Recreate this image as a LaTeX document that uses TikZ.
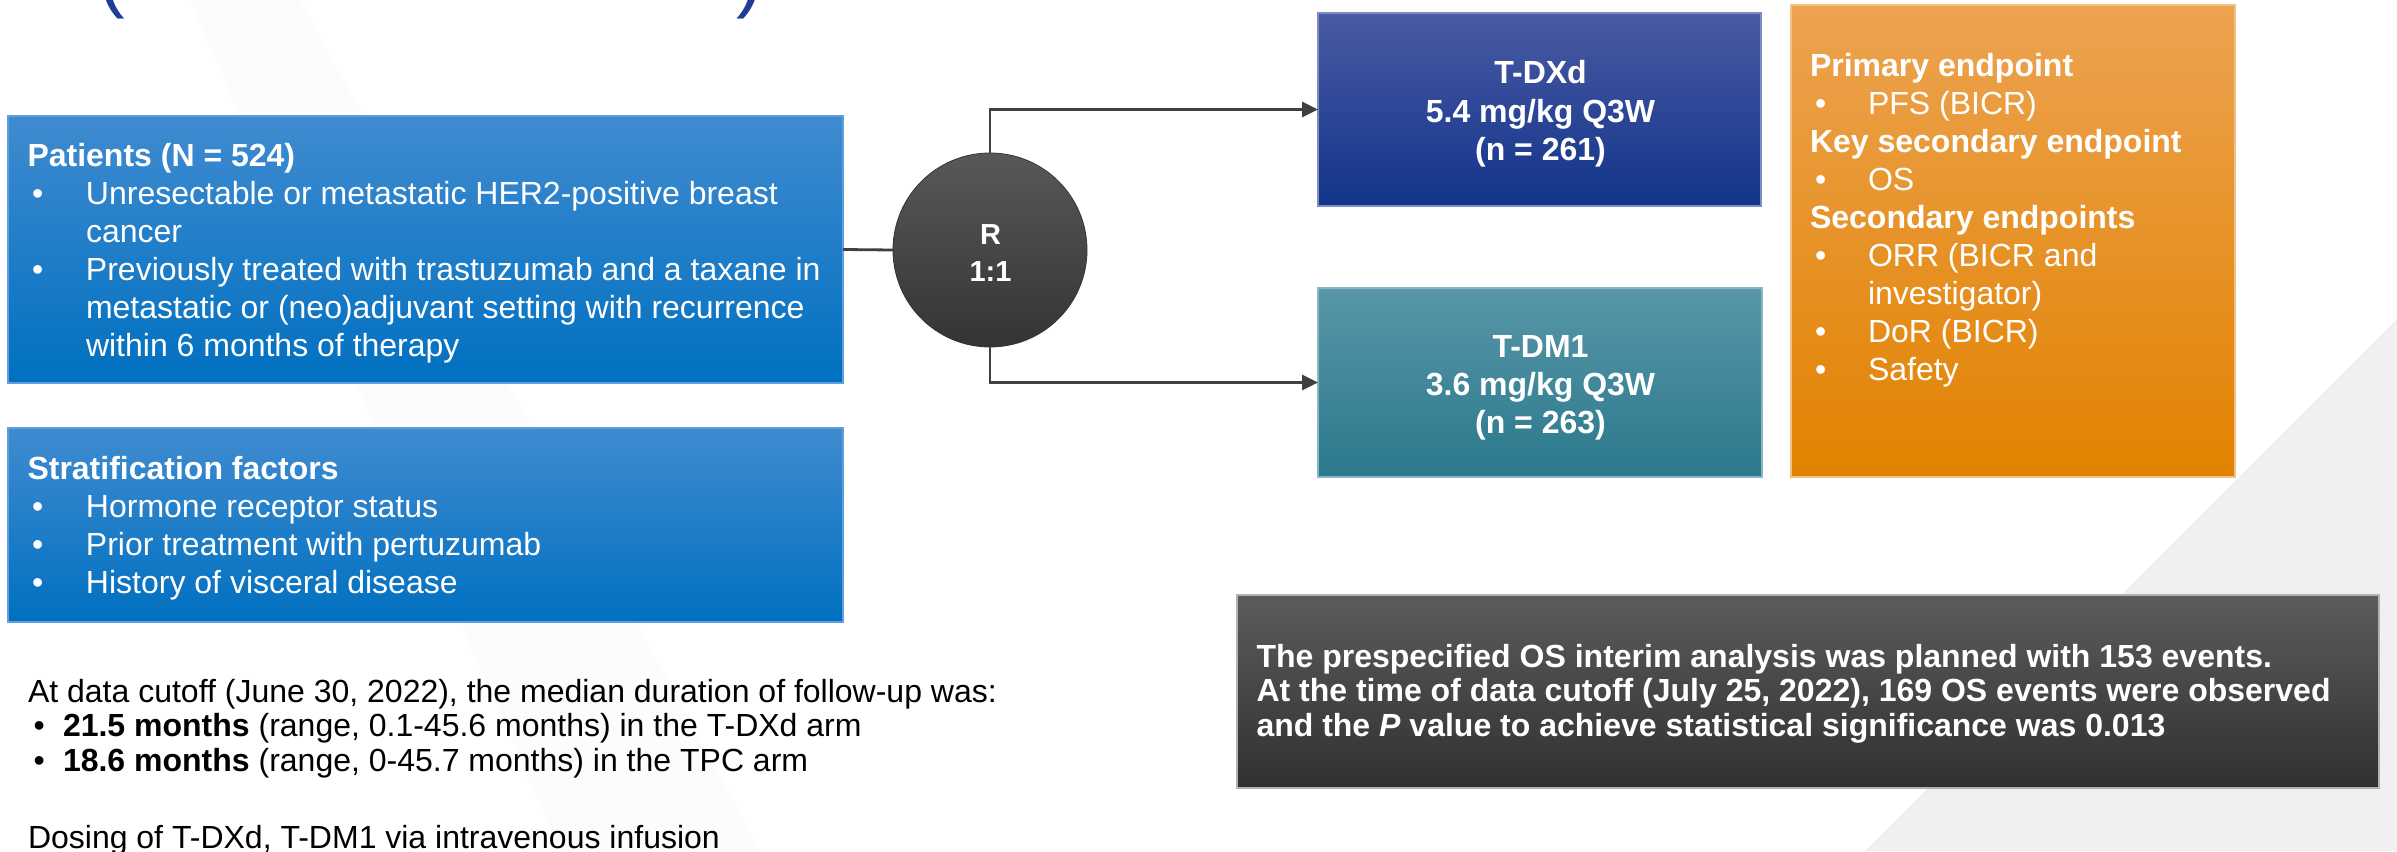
\documentclass[tikz,border=0pt]{standalone}
\usepackage{fontspec}
\setmainfont{Liberation Sans}
\usetikzlibrary{arrows.meta,calc}
\definecolor{patTop}{RGB}{64,139,208}
\definecolor{patBot}{RGB}{0,112,192}
\definecolor{patEdge}{RGB}{95,160,220}
\definecolor{dxTop}{RGB}{74,90,163}
\definecolor{dxBot}{RGB}{17,52,138}
\definecolor{dmTop}{RGB}{88,150,168}
\definecolor{dmBot}{RGB}{43,120,140}
\definecolor{orTop}{RGB}{236,163,80}
\definecolor{orBot}{RGB}{226,130,0}
\definecolor{dkTop}{RGB}{92,92,92}
\definecolor{dkBot}{RGB}{48,48,48}
\definecolor{ciTop}{RGB}{88,88,88}
\definecolor{ciBot}{RGB}{52,52,52}
\definecolor{connC}{RGB}{64,64,64}
\definecolor{titleBlue}{RGB}{31,61,150}
\newcommand{\bulline}[3]{\hbox{\hbox to #1{\hskip#2\relax\textbullet\hfil}#3}}
\newcommand{\ctrline}[1]{\hbox to 0pt{\hss #1\hss}}
\begin{document}
\begin{tikzpicture}[x=1pt,y=-1pt,
  boxshape/.style={rectangle, inner sep=0pt, outer sep=0pt, line width=1.2pt},
  txt/.style={anchor=base west, inner sep=0pt, outer sep=0pt, text=white},
  big/.style={font=\fontsize{32}{38}\selectfont},
  bigb/.style={font=\fontsize{32}{38}\selectfont\bfseries},
  tight/.style={font=\fontsize{32}{34.5}\selectfont},
  tightb/.style={font=\fontsize{32}{34.5}\selectfont\bfseries},
  conn/.style={draw=connC, line width=2.8pt},
  tip/.style={-{Triangle[length=16pt,width=15pt]}}]
\useasboundingbox (0,0) rectangle (2397,851);
\fill[white] (0,0) rectangle (2397,851);
\fill[gray!12] (2397,319) -- (1865,851) -- (2397,851) -- cycle;
\fill[gray!2] (190,0) -- (300,0) -- (760,851) -- (560,851) -- cycle;
\begin{scope}
\clip (0,0) rectangle (2397,851);
\node[txt, text=titleBlue, font=\fontsize{80}{90}\selectfont] (tl) at (98,2.5) {(};
\node[txt, text=titleBlue, font=\fontsize{80}{90}\selectfont] (tr) at (736,2.5) {)};
\end{scope}

% boxes
\node[boxshape, draw=patEdge, top color=patTop, bottom color=patBot, minimum width=835pt, minimum height=267pt] (pat) at (425.5,249.5) {};
\node[boxshape, draw=patEdge, top color=patTop, bottom color=patBot, minimum width=835pt, minimum height=194pt] (strat) at (425.5,525) {};
\node[circle, inner sep=0pt, outer sep=0pt, minimum size=194pt, top color=ciTop, bottom color=ciBot, draw=ciBot, line width=0.8pt] (rnd) at (990,250) {};
\node[boxshape, draw=dxTop!70!white, top color=dxTop, bottom color=dxBot, minimum width=443pt, minimum height=193pt] (tdxd) at (1539.5,109.5) {};
\node[boxshape, draw=dmTop!70!white, top color=dmTop, bottom color=dmBot, minimum width=444pt, minimum height=189pt] (tdm) at (1540,382.5) {};
\node[boxshape, draw=orTop!70!white, top color=orTop, bottom color=orBot, minimum width=444pt, minimum height=472pt] (endp) at (2013,241) {};
\node[boxshape, draw=gray!60, top color=dkTop, bottom color=dkBot, minimum width=1142pt, minimum height=193pt] (note) at (1808,691.5) {};

% connectors
\draw[conn] (pat.east) -- (rnd.west);
\draw[conn, tip] (rnd.north) |- (tdxd.west);
\draw[conn, tip] (rnd.south) |- (tdm.west);

% texts
\node[txt, big] (pattxt) at (27.5,166.5) {\vtop{%
  \hbox{\bfseries Patients (N = 524)}
  \bulline{58.5pt}{4.5pt}{Unresectable or metastatic HER2-positive breast}
  \hbox{\hskip58.5pt cancer}
  \bulline{58.5pt}{4.5pt}{Previously treated with trastuzumab and a taxane in}
  \hbox{\hskip58.5pt metastatic or (neo)adjuvant setting with recurrence}
  \hbox{\hskip58.5pt within 6 months of therapy}}};
\node[txt, big] (strattxt) at (27.5,479) {\vtop{%
  \hbox{\bfseries Stratification factors}
  \bulline{58.5pt}{4.5pt}{Hormone receptor status}
  \bulline{58.5pt}{4.5pt}{Prior treatment with pertuzumab}
  \bulline{58.5pt}{4.5pt}{History of visceral disease}}};
\node[txt, font=\fontsize{29}{37}\selectfont\bfseries] (rndtxt) at (990,244) {\vtop{%
  \ctrline{R}
  \ctrline{1:1}}};
\node[txt, bigb] (tdxdtxt) at (1540,84) {\vtop{%
  \ctrline{T-DXd}
  \ctrline{5.4 mg/kg Q3W}
  \ctrline{(n = 261)}}};
\node[txt, bigb] (tdmtxt) at (1540,357) {\vtop{%
  \ctrline{T-DM1}
  \ctrline{3.6 mg/kg Q3W}
  \ctrline{(n = 263)}}};
\node[txt, big] (endptxt) at (1810,76.5) {\vtop{%
  \hbox{\bfseries Primary endpoint}
  \bulline{58pt}{5pt}{PFS (BICR)}
  \hbox{\bfseries Key secondary endpoint}
  \bulline{58pt}{5pt}{OS}
  \hbox{\bfseries Secondary endpoints}
  \bulline{58pt}{5pt}{ORR (BICR and}
  \hbox{\hskip58pt investigator)}
  \bulline{58pt}{5pt}{DoR (BICR)}
  \bulline{58pt}{5pt}{Safety}}};
\node[txt, tightb] (notetxt) at (1256.5,667) {\vtop{%
  \hbox{The prespecified OS interim analysis was planned with 153 events.}
  \hbox{At the time of data cutoff (July 25, 2022), 169 OS events were observed}
  \hbox{and the \textit{P} value to achieve statistical significance was 0.013}}};
\node[txt, tight, text=black] (fu) at (28,702) {\vtop{%
  \hbox{At data cutoff (June 30, 2022), the median duration of follow-up was:}
  \bulline{35pt}{5.5pt}{\textbf{21.5 months} (range, 0.1-45.6 months) in the T-DXd arm}
  \bulline{35pt}{5.5pt}{\textbf{18.6 months} (range, 0-45.7 months) in the TPC arm}}};
\node[txt, tight, text=black] (dosing) at (28,848) {Dosing of T-DXd, T-DM1 via intravenous infusion};
\end{tikzpicture}
\end{document}
